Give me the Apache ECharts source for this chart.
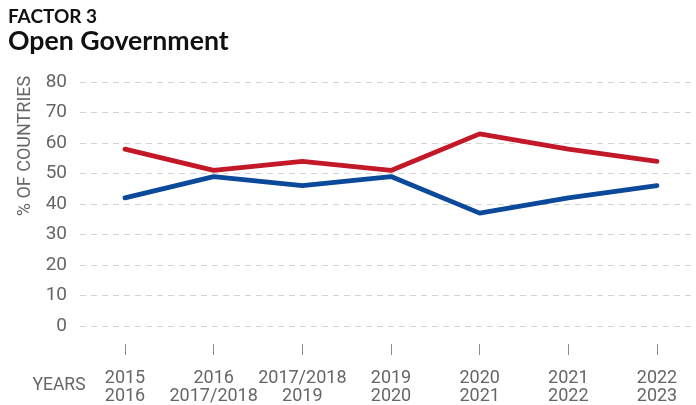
<!DOCTYPE html>
<html>
<head>
<meta charset="utf-8">
<script src="https://cdn.jsdelivr.net/npm/echarts@6/dist/echarts.min.js"></script>
<style>
  html, body { margin: 0; padding: 0; background: #fff; }
  #chart { width: 696px; height: 405px; }
</style>
</head>
<body>
<div id="chart"></div>
<script>
// Survey periods (two-line labels)
const periods = ['2015\n2016', '2016\n2017/2018', '2017/2018\n2019', '2019\n2020', '2020\n2021', '2021\n2022', '2022\n2023'];
// Share of countries (%)
const redSeries = [58, 51, 54, 51, 63, 58, 54];
const blueSeries = [42, 49, 46, 49, 37, 42, 46];
const yTicks = { min: 0, max: 80, interval: 10 };

const axisFont = 'Roboto, sans-serif';
const plotTop = 82;
const plotHeight = 244;
const lineLeft = 125;   // first period
const lineWidth = 532;  // first to last period
const chart = echarts.init(document.getElementById('chart'), null, { renderer: 'canvas' });

chart.setOption({
  animation: false,
  backgroundColor: '#ffffff',
  grid: [
    // value axis + dashed gridlines across the full width
    { left: 80, right: 0, top: plotTop, height: plotHeight, containLabel: false },
    // lines, spanning first to last period
    { left: lineLeft, width: lineWidth, top: plotTop, height: plotHeight, containLabel: false },
    // strip below the plot carrying the period ticks and labels
    { left: lineLeft, width: lineWidth, top: 343, height: 1, containLabel: false }
  ],
  xAxis: [
    { type: 'category', gridIndex: 0, data: periods, show: false },
    { type: 'category', gridIndex: 1, data: periods, boundaryGap: false, show: false },
    {
      type: 'category', gridIndex: 2, data: periods, boundaryGap: false,
      axisLine: { show: false },
      axisTick: { show: true, length: 11, lineStyle: { color: '#8a8a8a', width: 1 } },
      axisLabel: { color: '#666', fontFamily: axisFont, fontSize: 18, lineHeight: 18, margin: 25, interval: 0 },
      splitLine: { show: false }
    }
  ],
  yAxis: [
    {
      type: 'value', gridIndex: 0,
      min: yTicks.min, max: yTicks.max, interval: yTicks.interval,
      axisLine: { show: false },
      axisTick: { show: false },
      axisLabel: { color: '#666', fontFamily: axisFont, fontSize: 19, margin: 13 },
      splitLine: { show: true, lineStyle: { color: '#d4d4d4', type: [6, 5], width: 1 } }
    },
    { type: 'value', gridIndex: 1, min: yTicks.min, max: yTicks.max, interval: yTicks.interval, show: false, splitLine: { show: false } },
    { type: 'value', gridIndex: 2, show: false, splitLine: { show: false } }
  ],
  series: [
    { type: 'line', xAxisIndex: 1, yAxisIndex: 1, data: redSeries, symbol: 'none',
      lineStyle: { color: '#c21827', width: 4.8, cap: 'round', join: 'round' } },
    { type: 'line', xAxisIndex: 1, yAxisIndex: 1, data: blueSeries, symbol: 'none',
      lineStyle: { color: '#0b4a9b', width: 4.8, cap: 'round', join: 'round' } }
  ],
  graphic: [
    { type: 'text', x: 8, y: 17, style: { text: 'FACTOR 3', font: 'bold 19px Lato, sans-serif', fill: '#111', verticalAlign: 'middle' } },
    { type: 'text', x: 8, y: 41.5, style: { text: 'Open Government', font: 'bold 26.7px Lato, sans-serif', fill: '#111', verticalAlign: 'middle' } },
    { type: 'text', x: 25, y: 146, rotation: Math.PI / 2,
      style: { text: '% OF COUNTRIES', font: '18px ' + axisFont, fill: '#666', align: 'center', verticalAlign: 'middle' } },
    { type: 'text', x: 59, y: 386,
      style: { text: 'YEARS', font: '17.5px ' + axisFont, fill: '#666', align: 'center', verticalAlign: 'middle' } }
  ]
});
</script>
</body>
</html>
